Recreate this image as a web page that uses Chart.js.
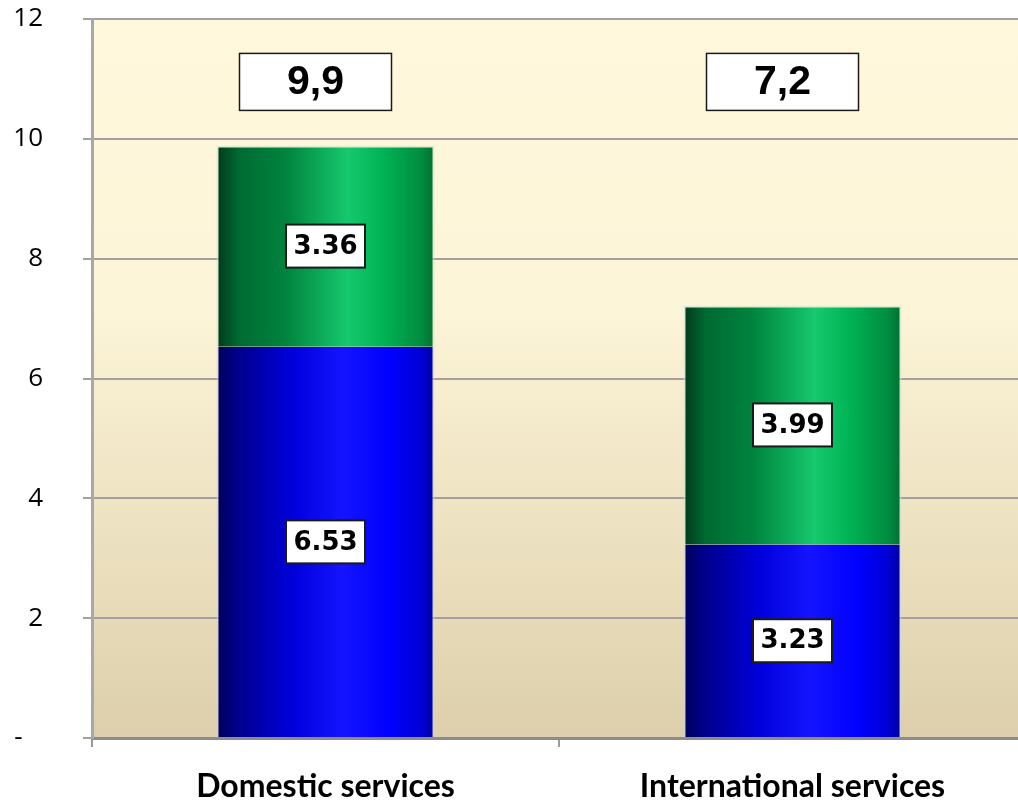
<!DOCTYPE html>
<html>
<head>
<meta charset="utf-8">
<script src="https://cdn.jsdelivr.net/npm/chart.js@4.4.1/dist/chart.umd.min.js"></script>
<style>
  html, body { margin: 0; padding: 0; background: #fff; overflow: hidden; }
  canvas { display: block; }
</style>
</head>
<body>
<canvas id="chart" width="1034" height="802"></canvas>
<script>
const categories = ["Domestic services", "International services"];
const blueValues = [6.53, 3.23];
const greenValues = [3.36, 3.99];
const totalLabels = ["9,9", "7,2"];
const yTicks = [0, 2, 4, 6, 8, 10, 12];

// horizontal gradient across one bar
function barGradient(ctx, stops) {
  const chart = ctx.chart;
  if (!chart.chartArea || !chart.scales.x) return stops[2][1];
  const x = chart.scales.x;
  const center = x.getPixelForValue(ctx.dataIndex);
  const half = (x.width / categories.length) * 0.467 / 2;
  const g = chart.ctx.createLinearGradient(center - half, 0, center + half, 0);
  stops.forEach(s => g.addColorStop(s[0], s[1]));
  return g;
}

const blueStops = [
  [0, "#00005c"], [0.1, "#00008c"], [0.35, "#0000dc"], [0.58, "#1414ff"],
  [0.8, "#0000ff"], [0.94, "#0000d4"], [1, "#00009c"]
];
const greenStops = [
  [0, "#00381c"], [0.1, "#006a32"], [0.32, "#00843e"], [0.6, "#16c86e"],
  [0.76, "#00b455"], [0.94, "#008c40"], [1, "#006c34"]
];

const plotBackground = {
  id: "plotBackground",
  beforeDraw(chart) {
    const { ctx, chartArea: a } = chart;
    const g = ctx.createLinearGradient(0, a.top, 0, a.bottom);
    g.addColorStop(0, "#fff8dc");
    g.addColorStop(0.4, "#fdf5d8");
    g.addColorStop(1, "#ddcfab");
    ctx.save();
    ctx.fillStyle = g;
    ctx.fillRect(a.left, a.top, a.right - a.left, a.bottom - a.top);
    ctx.restore();
  }
};

function boxLabel(ctx, text, cx, cy, font, w, h, lw) {
  ctx.save();
  ctx.fillStyle = "#fff";
  ctx.fillRect(cx - w / 2, cy - h / 2, w, h);
  ctx.lineWidth = lw;
  ctx.strokeStyle = "#1a1a1a";
  ctx.strokeRect(cx - w / 2, cy - h / 2, w, h);
  ctx.fillStyle = "#000";
  ctx.font = font;
  ctx.textAlign = "center";
  ctx.textBaseline = "middle";
  ctx.fillText(text, cx, cy + 1);
  ctx.restore();
}

const labelsPlugin = {
  id: "labelsPlugin",
  afterDatasetsDraw(chart) {
    const ctx = chart.ctx;
    chart.data.datasets.forEach((ds, di) => {
      chart.getDatasetMeta(di).data.forEach((bar, i) => {
        const cy = (bar.y + bar.base) / 2;
        boxLabel(ctx, ds.data[i].toFixed(2), bar.x, cy, "bold 26px 'DejaVu Sans'", 79, 43, 2);
      });
    });
    const x = chart.scales.x, y = chart.scales.y;
    totalLabels.forEach((t, i) => {
      boxLabel(ctx, t, x.getPixelForValue(i) - 10, y.getPixelForValue(10.95), "bold 41px 'Liberation Sans'", 152, 57, 1.5);
    });
  }
};

new Chart(document.getElementById("chart"), {
  type: "bar",
  data: {
    labels: categories,
    datasets: [
      {
        data: blueValues,
        backgroundColor: ctx => barGradient(ctx, blueStops),
        borderColor: "rgba(200,210,240,0.55)",
        borderWidth: { left: 2, right: 2, top: 0, bottom: 0 },
        borderSkipped: false,
        categoryPercentage: 1,
        barPercentage: 0.467
      },
      {
        data: greenValues,
        backgroundColor: ctx => barGradient(ctx, greenStops),
        borderColor: "rgba(200,230,200,0.6)",
        borderWidth: { left: 2, right: 2, top: 2, bottom: 0 },
        borderSkipped: false,
        categoryPercentage: 1,
        barPercentage: 0.467
      }
    ]
  },
  options: {
    responsive: false,
    animation: false,
    layout: { padding: { top: 19, right: 8, left: 0, bottom: 0 } },
    plugins: { legend: { display: false }, tooltip: { enabled: false } },
    scales: {
      x: {
        stacked: true,
        afterFit: scale => { scale.height = 64; },
        grid: { drawOnChartArea: false, drawTicks: true, tickLength: 9, color: "#9a9a9a", lineWidth: 2 },
        border: { color: "#8c8c8c", width: 3 },
        ticks: { color: "#000", padding: 20, maxRotation: 0, font: { family: "Lato", weight: "bold", size: 32 } }
      },
      y: {
        stacked: true,
        min: 0,
        max: 12,
        afterBuildTicks: scale => { scale.ticks = yTicks.map(v => ({ value: v })); },
        afterFit: scale => { scale.width = 92; scale.paddingTop = 0; scale.paddingBottom = 0; },
        grid: { color: "#a4a0a0", lineWidth: 2, tickLength: 9 },
        border: { color: "#a8a8a8", width: 3 },
        ticks: {
          color: "#000",
          padding: 40,
          font: { family: "Open Sans", size: 26 },
          callback: v => v === 0 ? "-   " : String(v)
        }
      }
    }
  },
  plugins: [plotBackground, labelsPlugin]
});
</script>
</body>
</html>
